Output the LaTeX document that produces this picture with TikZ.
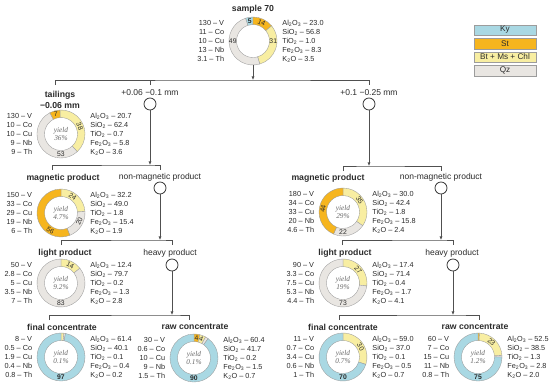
\documentclass[tikz,border=0pt]{standalone}
\usepackage{fontspec}
\setmainfont{Liberation Sans}
\newfontfamily\yieldfont{Liberation Serif}
\usepackage{tikz}
\usetikzlibrary{arrows.meta,calc,positioning}
\definecolor{kyblue}{HTML}{A9D8E3}
\definecolor{storange}{HTML}{F6B51E}
\definecolor{btyellow}{HTML}{F8EEA2}
\definecolor{qzgrey}{HTML}{E9E6E2}
\definecolor{ringline}{HTML}{9C9C9C}
\definecolor{linegrey}{HTML}{505050}
\definecolor{inkgrey}{HTML}{2B2B2B}
\newcommand{\subs}[1]{\textsubscript{#1}}
\tikzset{
  bracket/.style={linegrey,line width=0.9pt},
  flow/.style={bracket,-{Latex[length=3.6pt,width=3.2pt]}},
  split/.style={circle,draw=inkgrey,fill=white,line width=0.75pt,minimum size=12pt,inner sep=0pt},
  branch/.style={font=\fontsize{8.5}{10}\selectfont,text=inkgrey,inner sep=0pt},
  title/.style={font=\fontsize{8.7}{10.5}\selectfont\bfseries,text=inkgrey,inner sep=0pt,align=center},
  ringbox/.style={circle,minimum size=48pt,inner sep=0pt},
  ringnum/.style={font=\fontsize{6.8}{7}\selectfont,text=inkgrey,inner sep=0pt},
  yieldtext/.style={font=\yieldfont\itshape\fontsize{7.3}{8.3}\selectfont,text=black!60,align=center,inner sep=0pt},
  elist/.style={font=\fontsize{7.3}{9}\selectfont,text=inkgrey,align=right,inner sep=0pt},
  olist/.style={font=\fontsize{7.3}{9}\selectfont,text=inkgrey,align=left,inner sep=0pt},
  legbox/.style={draw=ringline,minimum width=62pt,minimum height=10.5pt,inner sep=0pt,font=\fontsize{8.2}{9}\selectfont,text=inkgrey}
}
% donut: #1 node, #2 segments (clockwise from top), #3 labels
\newcommand{\ring}[3]{%
  \begin{scope}[shift={(#1)}]
    \foreach \p/\q/\col in {#2}
      \filldraw[fill=\col,draw=ringline,line width=0.35pt]
        (90-\p:24) arc[start angle=90-\p,end angle=90-\q,radius=24]
        -- (90-\q:16.5) arc[start angle=90-\q,end angle=90-\p,radius=16.5] -- cycle;
    \foreach \ang/\rot/\lab [count=\k] in {#3}
      \node[ringnum,rotate=\rot] (#1-n\k) at (90-\ang:20.25) {\lab};
  \end{scope}}

\begin{document}
\begin{tikzpicture}[x=1pt,y=1pt]
\useasboundingbox (0,0) rectangle (550,-389);
% legend
\foreach \col/\txt [count=\i] in {kyblue/Ky,storange/St,btyellow/Bt + Ms + Chl,qzgrey/Qz}
  \node[legbox,fill=\col] (leg\i) at (505,{-30-13.5*(\i-1)}) {\txt};
% sample 70
\node[title] (s70-t) at (253,-9) {sample 70};
\node[ringbox] (s70) at (253,-41) {};
\ring{s70}{341.8/360/kyblue,0/50.9/storange,50.9/163.6/btyellow,163.6/341.8/qzgrey}{351/0/\textbf{5},25/-25/14,90/0/31,270/0/49}
\node[elist,left=4.5pt of s70] (s70-el) {130 – V\\11 – Co\\10 – Cu\\13 – Nb\\3.1 – Th};
\node[olist,right=5pt of s70] (s70-ox) {Al\subs2O\subs3 – 23.0\\SiO\subs2 – 56.8\\TiO\subs2 – 1.0\\Fe\subs2O\subs3 – 8.3\\K\subs2O – 3.5};
% size split
\coordinate (b0) at (253,-80);
\coordinate (b0-a) at (55,-85);
\coordinate (b0-c) at (150,-85);
\coordinate (b0-b) at (369,-85);
\draw[flow] (s70) -- (b0);
\draw[bracket] (b0-a) |- (b0) -| (b0-b);
\draw[bracket] (b0-c) -- (b0-c |- b0);
\node[branch] (fine-l) at (150,-93) {+0.06 −0.1 mm};
\node[split] (fine) at (150,-104) {};
\node[branch] (coarse-l) at (369,-93) {+0.1 −0.25 mm};
\node[split] (coarse) at (369,-104) {};
% tailings
\node[title] (tail-t) at (60,-100) {tailings\\−0.06 mm};
\node[ringbox] (tail) at (61,-134) {};
\ring{tail}{332/357.7/storange,357.7/497.3/btyellow,137.3/332/qzgrey}{345/0/7,68/-68/38,180/0/53}
\node[yieldtext] (tail-y) at (tail) {yield\\36\%};
\node[elist,left=4.5pt of tail] (tail-el) {130 – V\\10 – Co\\10 – Cu\\9 – Nb\\9 – Th};
\node[olist,right=5pt of tail] (tail-ox) {Al\subs2O\subs3 – 20.7\\SiO\subs2 – 62.4\\TiO\subs2 – 0.7\\Fe\subs2O\subs3 – 5.8\\K\subs2O – 3.6};
% magnetic split, left
\coordinate (bmL) at (150,-165);
\coordinate (bmL-a) at (52,-170);
\coordinate (bmL-b) at (160,-170);
\draw[flow] (fine) -- (bmL);
\draw[bracket] (bmL-a) |- (bmL) -| (bmL-b);
\node[title] (magL-t) at (63,-178) {magnetic product};
\node[branch] (nmL-l) at (160,-177) {non-magnetic product};
\node[split] (nmL) at (160,-188) {};
\node[ringbox] (magL) at (61,-213) {};
\ring{magL}{0/86.4/btyellow,86.4/158.4/qzgrey,158.4/360/storange}{35/-35/24,115/65/20,212/-32/56}
\node[yieldtext] (magL-y) at (magL) {yield\\4.7\%};
\node[elist,left=4.5pt of magL] (magL-el) {150 – V\\33 – Co\\29 – Cu\\19 – Nb\\6 – Th};
\node[olist,right=5pt of magL] (magL-ox) {Al\subs2O\subs3 – 32.2\\SiO\subs2 – 49.0\\TiO\subs2 – 1.8\\Fe\subs2O\subs3 – 15.4\\K\subs2O – 1.9};
% density split, left
\coordinate (blL) at (160,-240);
\coordinate (blL-a) at (61,-245);
\coordinate (blL-b) at (172,-245);
\draw[flow] (nmL) -- (blL);
\draw[bracket] (blL-a) |- (blL) -| (blL-b);
\node[title] (ltL-t) at (65,-253) {light product};
\node[branch] (hvL-l) at (170,-253) {heavy product};
\node[split] (hvL) at (172,-265) {};
\node[ringbox] (ltL) at (61,-283) {};
\ring{ltL}{0/52/btyellow,52/360/qzgrey}{27/-27/14,180/0/83}
\node[yieldtext] (ltL-y) at (ltL) {yield\\9.2\%};
\node[elist,left=4.5pt of ltL] (ltL-el) {50 – V\\2.8 – Co\\5 – Cu\\3.5 – Nb\\7 – Th};
\node[olist,right=5pt of ltL] (ltL-ox) {Al\subs2O\subs3 – 12.4\\SiO\subs2 – 79.7\\TiO\subs2 – 0.2\\Fe\subs2O\subs3 – 1.3\\K\subs2O – 2.8};
% concentrates, left
\coordinate (bfL) at (172,-315);
\coordinate (bfL-a) at (49,-320);
\coordinate (bfL-b) at (189,-320);
\draw[flow] (hvL) -- (bfL);
\draw[bracket] (bfL-a) |- (bfL) -| (bfL-b);
\node[title] (fcL-t) at (62,-327) {final concentrate};
\node[ringbox] (fcL) at (61,-357) {};
\ring{fcL}{0/7.2/btyellow,7.2/10.8/qzgrey,10.8/360/kyblue}{180/0/\textbf{97}}
\node[yieldtext] (fcL-y) at (fcL) {yield\\0.1\%};
\node[elist,left=4.5pt of fcL] (fcL-el) {8 – V\\0.5 – Co\\1.9 – Cu\\0.4 – Nb\\0.8 – Th};
\node[olist,right=5pt of fcL] (fcL-ox) {Al\subs2O\subs3 – 61.4\\SiO\subs2 – 40.1\\TiO\subs2 – 0.1\\Fe\subs2O\subs3 – 0.4\\K\subs2O – 0.2};
\node[title] (rcL-t) at (195,-327) {raw concentrate};
\node[ringbox] (rcL) at (194,-358) {};
\ring{rcL}{0/14.4/storange,14.4/28.8/btyellow,28.8/36/qzgrey,36/360/kyblue}{7/0/4,21/-21/4,180/0/\textbf{90}}
\node[yieldtext] (rcL-y) at (rcL) {yield\\0.1\%};
\node[elist,left=4.5pt of rcL] (rcL-el) {30 – V\\0.6 – Co\\10 – Cu\\9 – Nb\\1.5 – Th};
\node[olist,right=5pt of rcL] (rcL-ox) {Al\subs2O\subs3 – 60.4\\SiO\subs2 – 41.7\\TiO\subs2 – 0.2\\Fe\subs2O\subs3 – 1.5\\K\subs2O – 0.7};
% magnetic split, right
\coordinate (bmR) at (369,-166);
\coordinate (bmR-a) at (343,-171);
\coordinate (bmR-b) at (441,-171);
\draw[flow] (coarse) -- (bmR);
\draw[bracket] (bmR-a) |- (bmR) -| (bmR-b);
\node[title] (magR-t) at (328,-178) {magnetic product};
\node[branch] (nmR-l) at (441,-177) {non-magnetic product};
\node[split] (nmR) at (441,-188) {};
\node[ringbox] (magR) at (343,-212) {};
\ring{magR}{0/124.8/btyellow,124.8/203.2/qzgrey,203.2/360/storange}{55/-55/35,180/0/22,279/81/44}
\node[yieldtext] (magR-y) at (magR) {yield\\29\%};
\node[elist,left=4.5pt of magR] (magR-el) {180 – V\\34 – Co\\33 – Cu\\20 – Nb\\4.6 – Th};
\node[olist,right=5pt of magR] (magR-ox) {Al\subs2O\subs3 – 30.0\\SiO\subs2 – 42.4\\TiO\subs2 – 1.8\\Fe\subs2O\subs3 – 15.8\\K\subs2O – 2.4};
% density split, right
\coordinate (blR) at (441,-240);
\coordinate (blR-a) at (342,-245);
\coordinate (blR-b) at (453,-245);
\draw[flow] (nmR) -- (blR);
\draw[bracket] (blR-a) |- (blR) -| (blR-b);
\node[title] (ltR-t) at (345,-253) {light product};
\node[branch] (hvR-l) at (452,-253) {heavy product};
\node[split] (hvR) at (453,-265) {};
\node[ringbox] (ltR) at (343,-283) {};
\ring{ltR}{0/97.2/btyellow,97.2/360/qzgrey}{48/-48/27,180/0/73}
\node[yieldtext] (ltR-y) at (ltR) {yield\\19\%};
\node[elist,left=4.5pt of ltR] (ltR-el) {90 – V\\3.3 – Co\\7.5 – Cu\\5.3 – Nb\\4.4 – Th};
\node[olist,right=5pt of ltR] (ltR-ox) {Al\subs2O\subs3 – 17.4\\SiO\subs2 – 71.4\\TiO\subs2 – 0.4\\Fe\subs2O\subs3 – 1.7\\K\subs2O – 4.1};
% concentrates, right
\coordinate (bfR) at (453,-315);
\coordinate (bfR-a) at (339,-320);
\coordinate (bfR-b) at (479,-320);
\draw[flow] (hvR) -- (bfR);
\draw[bracket] (bfR-a) |- (bfR) -| (bfR-b);
\node[title] (fcR-t) at (343,-327) {final concentrate};
\node[ringbox] (fcR) at (343,-357) {};
\ring{fcR}{0/108/btyellow,108/360/kyblue}{60/-60/30,180/0/\textbf{70}}
\node[yieldtext] (fcR-y) at (fcR) {yield\\0.7\%};
\node[elist,left=4.5pt of fcR] (fcR-el) {11 – V\\0.7 – Co\\3.4 – Cu\\0.6 – Nb\\1 – Th};
\node[olist,right=5pt of fcR] (fcR-ox) {Al\subs2O\subs3 – 59.0\\SiO\subs2 – 37.0\\TiO\subs2 – 0.1\\Fe\subs2O\subs3 – 0.5\\K\subs2O – 0.7};
\node[title] (rcR-t) at (475,-327) {raw concentrate};
\node[ringbox] (rcR) at (478,-357) {};
\ring{rcR}{0/3.6/storange,3.6/86.4/btyellow,86.4/90/qzgrey,90/360/kyblue}{42/-42/23,180/0/\textbf{75}}
\node[yieldtext] (rcR-y) at (rcR) {yield\\1.2\%};
\node[elist,left=4.5pt of rcR] (rcR-el) {60 – V\\7 – Co\\15 – Cu\\11 – Nb\\0.8 – Th};
\node[olist,right=5pt of rcR] (rcR-ox) {Al\subs2O\subs3 – 52.5\\SiO\subs2 – 38.5\\TiO\subs2 – 1.3\\Fe\subs2O\subs3 – 2.8\\K\subs2O – 2.0};
\end{tikzpicture}
\end{document}
